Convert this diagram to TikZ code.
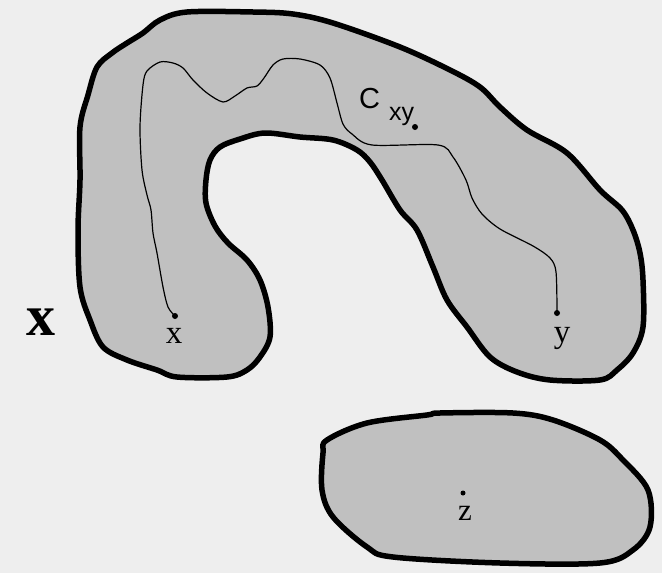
\documentclass[tikz,border=0pt]{standalone}
\usepackage{fontspec}
\setmainfont{Liberation Serif}
\newfontfamily\labsans{Liberation Sans}
\definecolor{bgcol}{RGB}{238,238,238}
\definecolor{regcol}{RGB}{192,192,192}
\begin{document}
\begin{tikzpicture}[x=1pt,y=-1pt,
  region/.style={fill=regcol,draw=black,line width=5.5pt,line join=round},
  pathline/.style={draw=black,line width=1.2pt,line join=round},
  ptdot/.style={circle,fill=black,inner sep=0pt,minimum size=6pt},
  lab/.style={anchor=base,inner sep=0pt,font=\fontsize{33}{33}\selectfont}]
\fill[bgcol] (0,0) rectangle (662,573);
\useasboundingbox (0,0) rectangle (662,573);
% U-shaped region
\draw[region] plot[smooth cycle,tension=0.55] coordinates {
 (78,230) (80,180) (80,127) (88,95) (97,67) (112,53) (127,43) (143,33) (160,20)
 (187,12) (253,12) (293,14) (333,23) (400,47) (450,70) (480,87) (500,107)
 (527,130) (567,153) (600,190) (622,210) (633,230) (640,253) (643,280)
 (643,327) (633,353) (617,370) (600,380) (550,380) (517,372) (490,357)
 (467,327) (447,300) (433,267) (417,230) (400,210) (382,180) (370,162)
 (357,150) (333,140) (300,137) (265,133) (240,139) (220,147) (210,160)
 (206,180) (206,203) (215,226) (228,243) (247,260) (260,280) (268,307)
 (270,337) (260,357) (247,370) (227,377) (177,377) (157,370) (127,360)
 (103,347) (90,320) (80,287)};
% bottom blob
\draw[region] plot[smooth cycle,tension=0.55] coordinates {
 (327,440) (367,423) (427,415) (440,413) (513,413) (553,420) (600,440)
 (623,460) (648,490) (650,527) (633,550) (600,563) (500,563) (393,557)
 (367,547) (333,517) (322,490) (323,453)};
% points
\node[ptdot] (px) at (175,316) {};
\node[ptdot] (py) at (557,313) {};
\node[ptdot] (pc) at (415,127) {};
\node[ptdot,minimum size=5pt] (pz) at (463,493) {};
% path C_xy
\draw[pathline] plot[smooth,tension=0.5] coordinates {
 (px.center) (168,307) (163,287) (157,253) (153,233) (151,210) (147,195)
 (142,170) (140,127) (143,85) (147,71) (160,62) (173,63) (183,68) (193,80)
 (207,93) (223,102) (235,96) (247,88) (257,86) (264,78) (273,65) (283,59)
 (300,59) (320,65) (330,78) (337,103) (343,124) (352,134) (372,145)
 (438,145) (453,157) (466,180) (472,198) (482,214) (500,229) (533,246)
 (550,258) (556,272) (py.center)};
% labels
\node[lab] (lx) at (174,343) {x};
\node[lab] (ly) at (562,342) {y};
\node[lab,font=\fontsize{31}{31}\selectfont] (lz) at (465,520) {z};
\node[anchor=base west,inner sep=0pt,font=\labsans\fontsize{29}{29}\selectfont] (lc) at (359,108) {C};
\node[anchor=base west,inner sep=0pt,font=\labsans\fontsize{25}{25}\selectfont] (lcs) at (389,120) {xy};
\node[lab,font=\bfseries\fontsize{58}{58}\selectfont] (lX) at (41,335) {x};
\end{tikzpicture}
\end{document}
